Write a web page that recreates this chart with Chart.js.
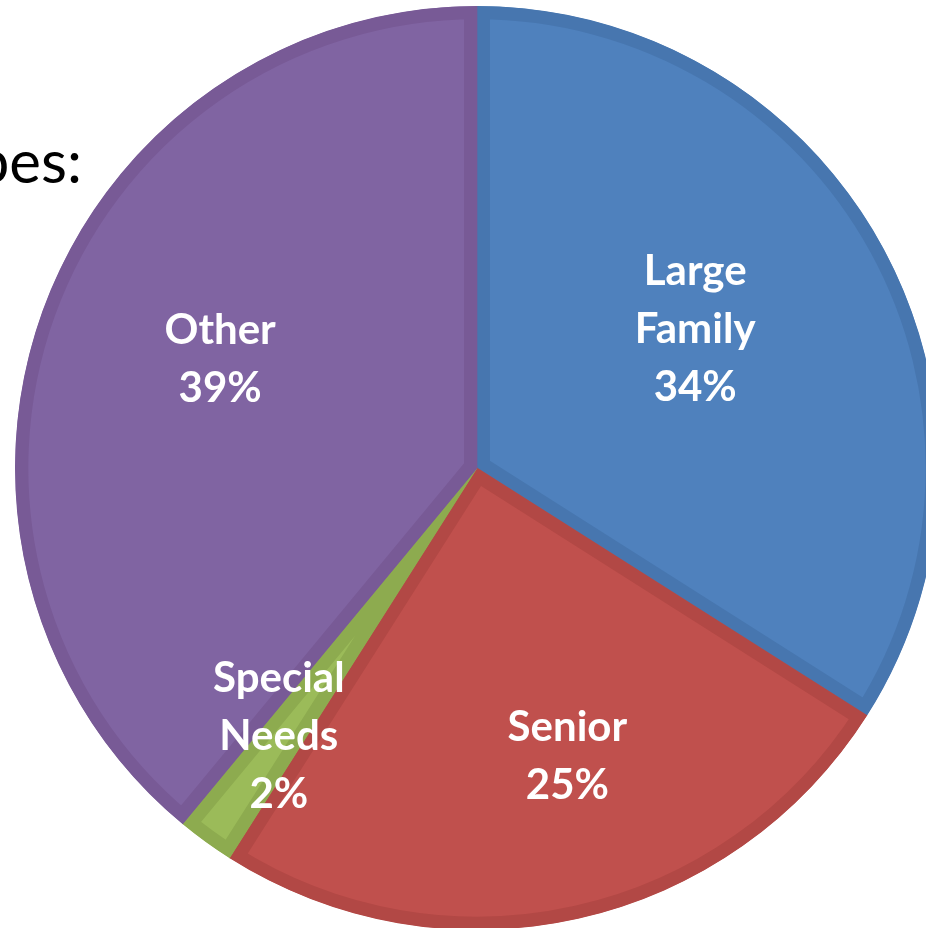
<!DOCTYPE html>
<html>
<head>
<meta charset="utf-8">
<script src="https://cdn.jsdelivr.net/npm/chart.js@4/dist/chart.umd.min.js"></script>
<style>
  html, body { margin: 0; padding: 0; background: #ffffff; overflow: hidden; width: 926px; height: 928px; }
  #wrap { position: absolute; left: -3px; top: -12px; width: 960px; height: 960px; }
  #title { position: absolute; left: -300px; width: 382px; top: 120px; text-align: right;
           font-family: Lato, "Open Sans", sans-serif; font-size: 60px; line-height: 80px; color: #000; white-space: nowrap; }
</style>
</head>
<body>
<div id="wrap"><canvas id="c" width="960" height="960"></canvas></div>
<div id="title">Types:</div>
<script>
const categories = ["Large Family", "Senior", "Special Needs", "Other"];
const labelLines = [["Large", "Family"], ["Senior"], ["Special", "Needs"], ["Other"]];
const shares = [34, 25, 2, 39];

const fillColors = ["#4F81BD", "#C0504D", "#9BBB59", "#8064A2"];
const bandColors = ["#4776AF", "#B24845", "#8DAB4F", "#785A96"];

// label placement relative to each slice: radial fraction and angular shift (deg)
const labelPlacement = [
  { frac: 0.56, shift: -3.7 },
  { frac: 0.654, shift: -4.8 },
  { frac: 0.723, shift: 0.4 },
  { frac: 0.604, shift: 3.2 }
];

const pieLabels = {
  id: "pieLabels",
  afterDatasetsDraw(chart) {
    const ctx = chart.ctx;
    const meta = chart.getDatasetMeta(0);
    const ds = chart.data.datasets[0];
    ctx.save();
    ctx.fillStyle = "#ffffff";
    ctx.font = "bold 42px Lato, 'Open Sans', sans-serif";
    ctx.textAlign = "center";
    ctx.textBaseline = "middle";
    const lineH = 58;
    meta.data.forEach((arc, i) => {
      const p = arc.getProps(["x", "y", "startAngle", "endAngle", "outerRadius"], true);
      const pl = labelPlacement[i];
      const mid = (p.startAngle + p.endAngle) / 2 + pl.shift * Math.PI / 180;
      const r = p.outerRadius * pl.frac;
      const cx = p.x + Math.cos(mid) * r;
      const cy = p.y + Math.sin(mid) * r;
      const lines = labelLines[i].concat([ds.data[i] + "%"]);
      lines.forEach((t, k) => {
        ctx.fillText(t, cx, cy + (k - (lines.length - 1) / 2) * lineH);
      });
    });
    ctx.restore();
  }
};

new Chart(document.getElementById("c"), {
  type: "pie",
  data: {
    labels: categories,
    datasets: [{
      data: shares,
      backgroundColor: fillColors,
      borderColor: bandColors,
      borderWidth: 13,
      borderAlign: "inner",
      radius: 462
    }]
  },
  options: {
    responsive: false,
    animation: false,
    layout: { padding: 0 },
    plugins: { legend: { display: false }, tooltip: { enabled: false }, title: { display: false } }
  },
  plugins: [pieLabels]
});
</script>
</body>
</html>
